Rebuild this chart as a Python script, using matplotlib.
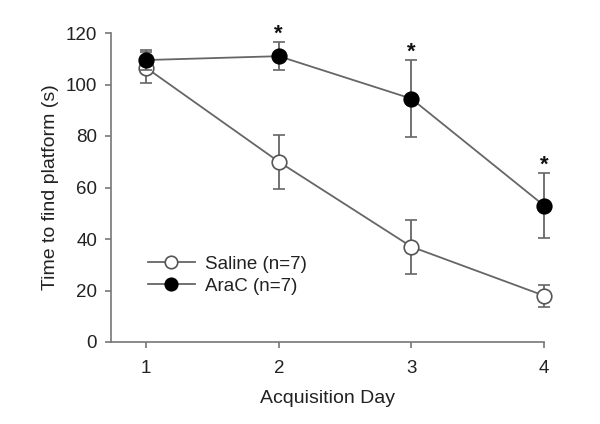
import matplotlib
matplotlib.use("Agg")
import matplotlib.pyplot as plt
from matplotlib.lines import Line2D

days = [1, 2, 3, 4]
saline_mean = [106.5, 70, 37, 18]
saline_err = [6, 10.5, 10.5, 4.3]
arac_mean = [109.5, 111, 94.5, 53]
arac_err = [4, 5.5, 15, 12.7]
sig_days = [2, 3, 4]
yticks = [0, 20, 40, 60, 80, 100, 120]

plt.rcParams['font.family'] = ['Liberation Sans', 'DejaVu Sans']
fig = plt.figure(figsize=(6, 4.24), dpi=100)
ax = fig.add_axes([111/600, 1-342/424, (544-111)/600, (342-33)/424])

line_c = '#666666'
ax.errorbar(days, saline_mean, yerr=saline_err, color=line_c, lw=1.3,
            marker='o', ms=10.5, mfc='white', mec='#555555', mew=1.2,
            ecolor=line_c, elinewidth=1.3, capsize=4, capthick=1.3,
            clip_on=False, zorder=3)
ax.errorbar(days, arac_mean, yerr=arac_err, color=line_c, lw=1.3,
            marker='o', ms=10.5, mfc='black', mec='black', mew=1.2,
            ecolor=line_c, elinewidth=1.3, capsize=4, capthick=1.3,
            clip_on=False, zorder=4)

for d in sig_days:
    i = days.index(d)
    ax.annotate('*', xy=(d, arac_mean[i] + arac_err[i]), xytext=(0, 1.5),
                textcoords='offset points', ha='center', va='baseline',
                fontsize=16, fontweight='bold', color='#111111')

ax.set_xlim(0.735, 4.0)
ax.set_ylim(0, 120)
ax.set_xticks(days)
ax.set_yticks(yticks)
for s in ['top', 'right']:
    ax.spines[s].set_visible(False)
for s in ['left', 'bottom']:
    ax.spines[s].set_color('#777777')
    ax.spines[s].set_linewidth(1.2)
ax.tick_params(direction='out', length=4, width=1.2, color='#777777',
               labelsize=13.5, labelcolor='#222222')
ax.tick_params(axis='x', pad=9)
ax.tick_params(axis='y', pad=6)
ax.set_xlabel('Acquisition Day', fontsize=14, color='#222222', labelpad=9.5)
ax.set_ylabel('Time to find platform (s)', fontsize=14, color='#222222', labelpad=5)

handles = [
    Line2D([], [], color=line_c, lw=1.3, marker='o', ms=9, mfc='white', mec='#555555', mew=1.2),
    Line2D([], [], color=line_c, lw=1.3, marker='o', ms=9, mfc='black', mec='black', mew=1.2),
]
ax.legend(handles, ['Saline (n=7)', 'AraC (n=7)'], loc='upper left',
          bbox_to_anchor=(0.055, 0.321), frameon=False,
          fontsize=13.5, handlelength=2.5, labelspacing=0.25, borderpad=0.2,
          handletextpad=0.55, labelcolor='#222222')

fig.savefig('out.png', dpi=100, facecolor='white')
